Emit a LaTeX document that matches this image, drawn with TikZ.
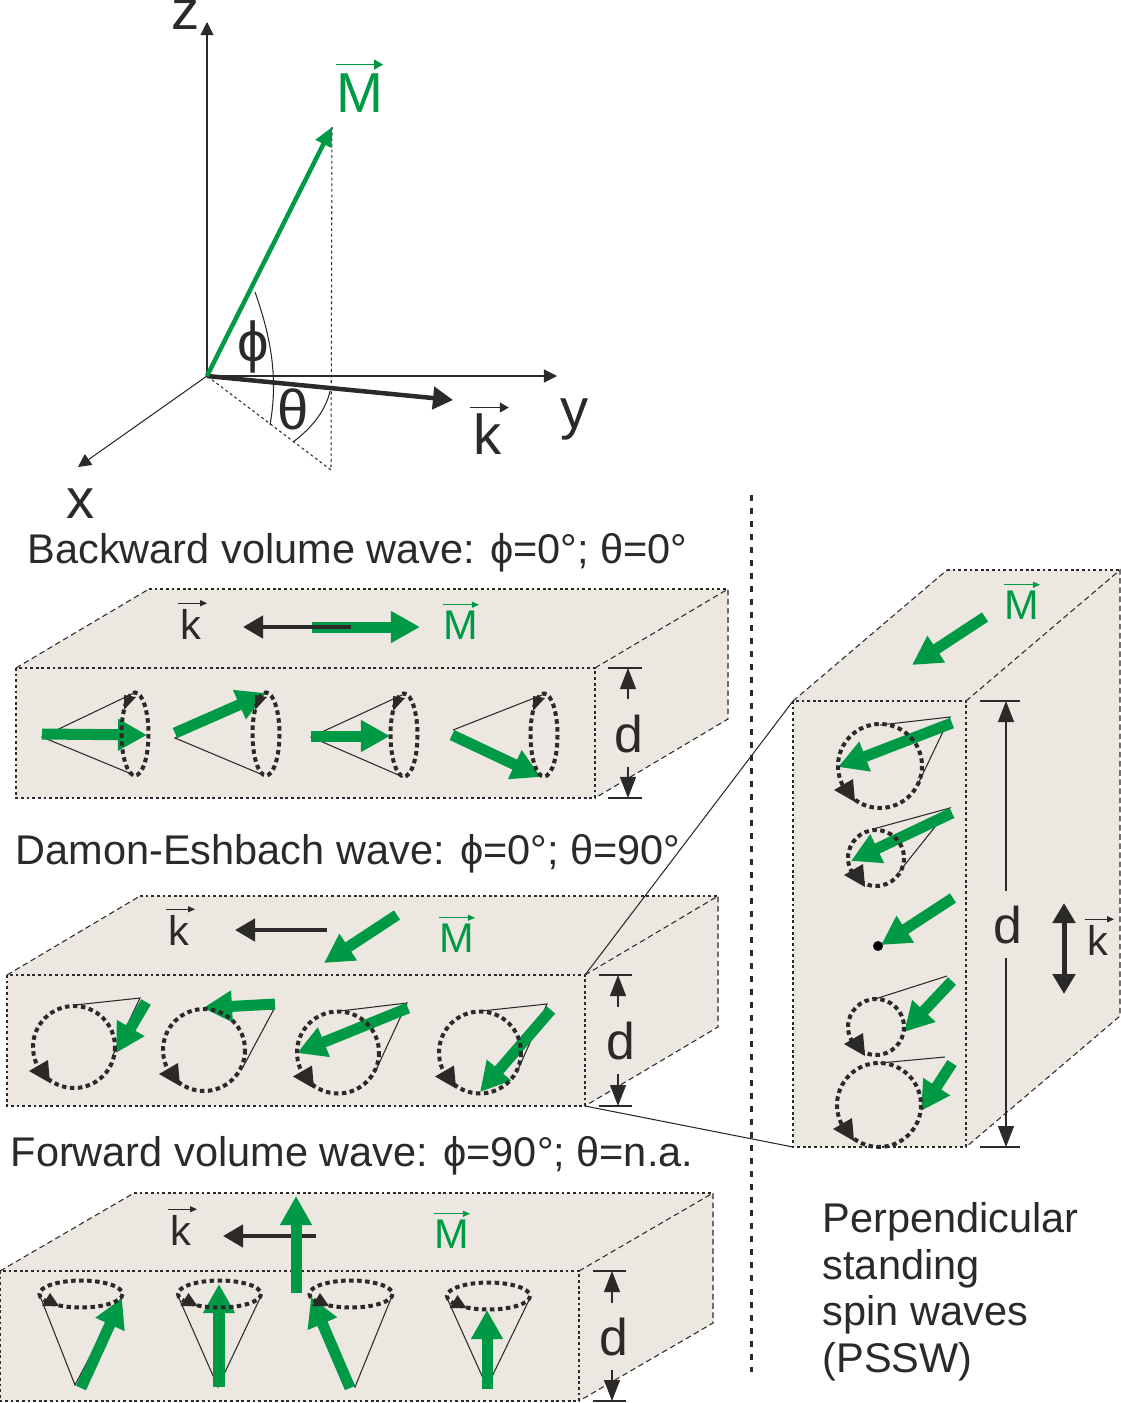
\documentclass[tikz,border=0pt]{standalone}
\usepackage{amsmath}
\usepackage{fontspec}
\setmainfont{Liberation Sans}
\usetikzlibrary{arrows.meta}
\definecolor{spingreen}{HTML}{009A46}
\definecolor{ink}{HTML}{2B2A29}
\definecolor{slabface}{HTML}{ECE7E0}

\begin{document}
\begin{tikzpicture}[
		x=.01cm, y=-.01cm,
		face/.style={fill=slabface, draw=none},
		frontedge/.style={draw=ink, line width=.3pt, dash pattern=on .8pt off .8pt},
		backedge/.style={draw=ink, line width=.3pt, dash pattern=on 1.6pt off 1pt},
		coneline/.style={draw=ink, line width=.3pt},
		ring/.style={draw=ink, line width=.04cm, dash pattern=on .045cm off .035cm},
		spinarrow/.style={draw=spingreen, line width=.11cm, -{Triangle[length=.29cm, width=.3cm, fill=spingreen]}},
		karrow/.style={draw=ink, line width=.045cm, -{Triangle[length=.2cm, width=.22cm, fill=ink]}},
		dimline/.style={draw=ink, line width=.3pt, -{Triangle[length=.21cm, width=.16cm, fill=ink]}},
		axis/.style={draw=ink, line width=.3pt, -{Triangle[length=.13cm, width=.13cm, fill=ink]}},
		vecbar/.style={line width=.3pt, -{Triangle[length=.07cm, width=.06cm]}},
		bigbar/.style={line width=.35pt, -{Triangle[length=.09cm, width=.1cm]}},
		biglabel/.style={anchor=base, inner sep=0pt, text=ink, font=\fontsize{16}{18}\selectfont},
		thicklabel/.style={anchor=base, inner sep=0pt, text=ink, font=\fontsize{14.7}{17}\selectfont},
		veclabel/.style={anchor=base, inner sep=0pt, text=ink, font=\fontsize{11.8}{13}\selectfont},
		title/.style={anchor=base west, inner sep=0pt, text=ink, font=\fontsize{11.8}{13}\selectfont}]

		\useasboundingbox (0,0) rectangle (1120,1403);

		% Axis cross
		\coordinate (O) at (207,376);
		\coordinate (zend) at (207,22);
		\coordinate (yend) at (557,376);
		\coordinate (xend) at (78,467);
		\coordinate (kend) at (453,400);
		\coordinate (Mend) at (332,127);
		\coordinate (foot) at (331,470);
		\draw[frontedge] (Mend) -- (foot) -- (O);
		\draw[axis] (O) -- (zend);
		\draw[axis] (O) -- (yend);
		\draw[axis] (O) -- (xend);
		\draw[coneline] (255,292) .. controls (272,340) and (278,380) .. (270,425);
		\draw[coneline] (330,391) .. controls (326,410) and (312,428) .. (293,442);
		\draw[draw=ink, line width=.045cm, -{Triangle[length=.2cm, width=.22cm, fill=ink]}] (O) -- (kend);
		\draw[draw=spingreen, line width=.045cm, -{Triangle[length=.19cm, width=.17cm, fill=spingreen]}] (O) -- (Mend);

		\node (zlabel) [biglabel] at (186,30) {z};
		\node (ylabel) [biglabel] at (575,428) {y};
		\node (xlabel) [biglabel] at (81,518) {x};
		\node (philabel) [biglabel] at (253,361) {ϕ};
		\node (thetalabel) [biglabel] at (293,429) {θ};
		\node (klabel) [biglabel] at (488,454) {k};
		\node (Mlabel) [biglabel, text=spingreen] at (360,112) {M};
		\draw[bigbar, draw=ink, fill=ink] ([xshift=-.03cm, yshift=.05cm]klabel.north west) -- ([xshift=.06cm, yshift=.05cm]klabel.north east);
		\draw[bigbar, draw=spingreen, fill=spingreen] ([yshift=.08cm]Mlabel.north west) -- ([xshift=-.01cm, yshift=.08cm]Mlabel.north east);

		% Slabs: front corner, front size, offset of the back face
		\foreach \sx/\sy/\sw/\sh/\ox/\oy in {16/668/579/130/133/79, 7/975/578/131/133/79, 0/1271/579/130/134/78, 793/701/173/446/154/131}{
			\fill[face] (\sx,\sy) -- (\sx+\ox,\sy-\oy) -- (\sx+\sw+\ox,\sy-\oy) -- (\sx+\sw+\ox,\sy+\sh-\oy) -- (\sx+\sw,\sy+\sh) -- (\sx,\sy+\sh) -- cycle;
			\draw[frontedge] (\sx,\sy) rectangle (\sx+\sw,\sy+\sh);
			\draw[frontedge] (\sx+\ox,\sy-\oy) -- (\sx+\sw+\ox,\sy-\oy);
			\draw[backedge] (\sx,\sy) -- (\sx+\ox,\sy-\oy);
			\draw[backedge] (\sx+\sw,\sy) -- (\sx+\sw+\ox,\sy-\oy) -- (\sx+\sw+\ox,\sy+\sh-\oy) -- (\sx+\sw,\sy+\sh);
		}

		% Zoom lines to the PSSW slab
		\draw[coneline] (585,975) -- (793,701);
		\draw[coneline] (585,1106) -- (793,1147);
		\draw[draw=ink, line width=.03cm, dash pattern=on .06cm off .07cm] (751,495) -- (751,1372);

		% Thickness marks
		\foreach \px/\ya/\yb/\ua/\ub/\tl in {628/668/798/699/767/20, 618/975/1106/1007/1074/19, 612/1271/1401/1303/1370/19, 1006/701/1147/891/958/26}{
			\draw[coneline] (\px-\tl,\ya) -- (\px+14,\ya);
			\draw[coneline] (\px-\tl,\yb) -- (\px+14,\yb);
			\draw[dimline] (\px,\ua) -- (\px,\ya);
			\draw[dimline] (\px,\ub) -- (\px,\yb);
		}
		\node (dback) [thicklabel] at (629,752) {d};
		\node (ddamon) [thicklabel] at (621,1059) {d};
		\node (dforward) [thicklabel] at (614,1355) {d};
		\node (dperp) [thicklabel] at (1008,943) {d};

		% Backward volume wave
		\draw[spinarrow] (312,627) -- (420,627);
		\draw[karrow] (351,627) -- (243,627);
		\node (kback) [veclabel] at (191,639) {k};
		\node (Mback) [veclabel, text=spingreen] at (461,639) {M};
		\draw[coneline] (134,693) -- (42,737) -- (134,775);
		\draw[coneline] (264,693) -- (175,738) -- (263,775);
		\draw[coneline] (402,695) -- (311,737) -- (403,777);
		\draw[coneline] (542,695) -- (453,730);
		\draw[spinarrow] (42,734) -- (147,735);
		\draw[spinarrow] (175,733) -- (266,693);
		\draw[spinarrow] (311,736) -- (390,736);
		\draw[spinarrow] (452,735) -- (541,777);
		\foreach \cx/\cy in {135/734, 266/734, 404/735, 544/735}{
			\draw[ring] (\cx,\cy) ellipse [x radius=13.5, y radius=41.5];
			\fill[ink] (\cx-11,\cy-39) -- (\cx+1,\cy-37) -- (\cx-11,\cy-24) -- cycle;
		}

		% Damon-Eshbach wave
		\draw[karrow] (327,930) -- (235,930);
		\draw[spinarrow] (397,915) -- (324,963);
		\node (kdamon) [veclabel] at (179,945) {k};
		\node (Mdamon) [veclabel, text=spingreen] at (457,952) {M};
		\draw[coneline] (75,1005) -- (140,998) -- (113,1055);
		\draw[coneline] (204,1008) -- (274,1009) -- (243,1067);
		\draw[coneline] (340,1011) -- (407,1003) -- (376,1070);
		\draw[coneline] (481,1011) -- (547,1004) -- (517,1072);
		\draw[spinarrow] (146,1002) -- (116,1053);
		\draw[spinarrow] (275,1004) -- (203,1008);
		\draw[spinarrow] (408,1008) -- (297,1053);
		\draw[spinarrow] (551,1010) -- (480,1092);

		% Forward volume wave
		\draw[karrow] (316,1236) -- (223,1236);
		\draw[spinarrow] (296,1293) -- (296,1196);
		\node (kforward) [veclabel] at (181,1245) {k};
		\node (Mforward) [veclabel, text=spingreen] at (452,1248) {M};
		\draw[coneline] (40,1296) -- (75,1385) -- (122,1296);
		\draw[coneline] (178,1296) -- (218,1387) -- (261,1296);
		\draw[coneline] (310,1296) -- (355,1387) -- (392,1296);
		\draw[coneline] (447,1298) -- (487,1387) -- (530,1298);
		\draw[spinarrow] (81,1388) -- (122,1298);
		\draw[spinarrow] (219,1387) -- (219,1284);
		\draw[spinarrow] (350,1388) -- (311,1297);
		\draw[spinarrow] (487,1389) -- (487,1310);
		\foreach \cx/\cy in {81/1294, 219.5/1294, 351/1294, 488.5/1296}{
			\draw[ring] (\cx,\cy) ellipse [x radius=41.5, y radius=13.5];
			\fill[ink] (\cx-39,\cy+12) -- (\cx-31,\cy-1) -- (\cx-22,\cy+12) -- cycle;
		}

		% Perpendicular standing spin waves
		\draw[spinarrow] (985,617) -- (912,665);
		\node (Mperp) [veclabel, text=spingreen] at (1022,619) {M};
		\draw[draw=ink, line width=.05cm, {Triangle[length=.2cm, width=.22cm, fill=ink]}-{Triangle[length=.2cm, width=.22cm, fill=ink]}] (1064,903) -- (1064,994);
		\node (kperp) [veclabel] at (1098,955) {k};
		\draw[coneline] (880,725) -- (950,717) -- (918,784);
		\draw[coneline] (873,829) -- (950,808) -- (899,872);
		\draw[coneline] (875,999) -- (947,976);
		\draw[coneline] (880,1063) -- (945,1057);
		\draw[spinarrow] (952,723) -- (838,767);
		\draw[spinarrow] (952,813) -- (851,861);
		\draw[spinarrow] (953,898) -- (881,945);
		\draw[spinarrow] (952,981) -- (904,1032);
		\draw[spinarrow] (952,1063) -- (921,1111);
		\fill[black] (878,946) circle [radius=5];

		% Rings seen from the front, on top of the green arrows
		\foreach \cx/\cy/\rr/\hy in {74/1047/41/24, 204/1050/41/24, 338/1052.5/41/24, 480/1052.5/41/24, 880/766/42/24, 876/858/28/17, 876/1027/28/17, 879/1105/42/24}{
			\draw[ring] (\cx,\cy) circle [radius=\rr];
			\fill[ink] (\cx-\rr-4,\cy+\hy) -- (\cx-\rr+15,\cy+\hy-11) -- (\cx-\rr+17,\cy+\hy+12) -- cycle;
		}

		% Small vector marks over the slab labels
		\foreach \lab in {kback, kdamon, kforward, kperp}{
			\draw[vecbar, draw=ink, fill=ink] ([xshift=-.02cm, yshift=.05cm]\lab.north west) -- ([xshift=.05cm, yshift=.05cm]\lab.north east);
		}
		\foreach \lab in {Mback, Mdamon, Mforward, Mperp}{
			\draw[vecbar, draw=spingreen, fill=spingreen] ([yshift=.05cm]\lab.north west) -- ([yshift=.05cm]\lab.north east);
		}

		% Headings
		\node (backtitle) [title] at (27,563.5) {Backward volume wave: ϕ=0°; θ=0°};
		\node (damontitle) [title] at (15,864) {Damon-Eshbach wave: ϕ=0°; θ=90°};
		\node (forwardtitle) [title] at (10,1166) {Forward volume wave: ϕ=90°; θ=n.a.};
		\node (pssw1) [title] at (822,1232) {Perpendicular};
		\node (pssw2) [title] at (822,1279) {standing};
		\node (pssw3) [title] at (822,1325) {spin waves};
		\node (pssw4) [title] at (822,1372) {(PSSW)};
\end{tikzpicture}
\end{document}
